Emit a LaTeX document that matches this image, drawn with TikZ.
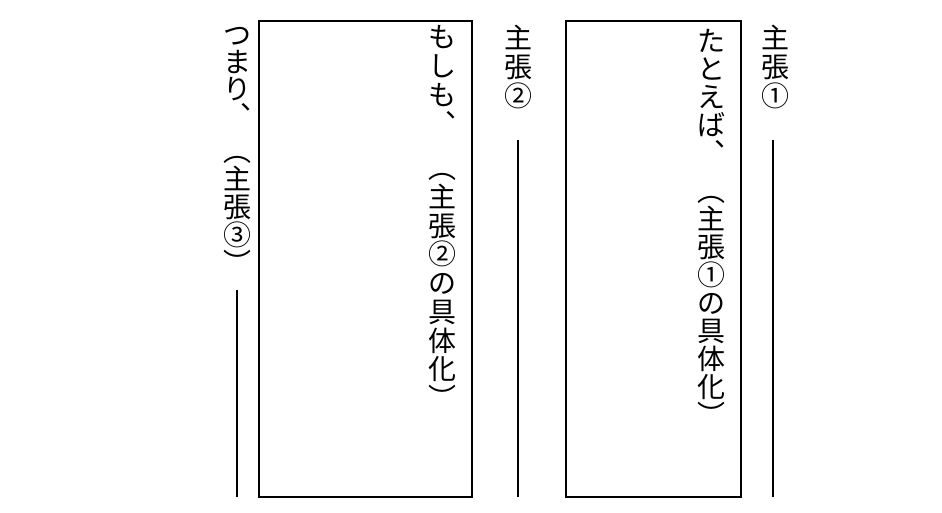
\documentclass[tikz,border=0pt]{standalone}
\usepackage{fontspec}
\newfontfamily\jpfont{Noto Sans CJK JP}
\newlength{\du}
\setlength{\du}{1pt}
\tikzset{
  moji/.style={inner sep=0pt, text height=0.88em, text depth=0.12em,
    font=\jpfont\fontsize{28\du}{28\du}\selectfont},
  waku/.style={draw, line width=1.5\du, inner sep=0pt},
  kakisen/.style={line width=2.6\du},
}
% one column of vertical text: name, x, y of first char, pitch, chars
\newcommand{\tategaki}[5]{%
  \foreach \c [count=\i] in {#5}
    \node[moji] (#1\i) at (#2\du, #3\du + \i*#4\du - #4\du) {\c};
}

\begin{document}
\begin{tikzpicture}
\pgftransformxscale{1.000000}
\pgftransformyscale{-1.000000}
\useasboundingbox (0,0) rectangle (942\du,512\du);
% boxes
\node[waku, minimum width=175\du, minimum height=476\du] (rei1) at (653.5\du,259\du) {};
\node[waku, minimum width=213\du, minimum height=476\du] (rei2) at (365.5\du,259\du) {};
% claim 1
\tategaki{shucho1-}{775}{45}{29}{主,張,①}
\coordinate (sen1a) at (773\du,140\du);
\coordinate (sen1b) at (773\du,497\du);
\draw[kakisen] (sen1a)--(sen1b);
% example 1
\tategaki{tatoe-}{711}{48}{28}{た,と,え,ば,︑}
\tategaki{gutai1-}{711}{198}{28}{︵,主,張,①,の,具,体,化,︶}
% claim 2
\tategaki{shucho2-}{518}{45}{29}{主,張,②}
\coordinate (sen2a) at (518\du,140\du);
\coordinate (sen2b) at (518\du,497\du);
\draw[kakisen] (sen2a)--(sen2b);
% example 2
\tategaki{moshi-}{442}{44}{29}{も,し,も,︑}
\tategaki{gutai2-}{442}{175}{28.7}{︵,主,張,②,の,具,体,化,︶}
% claim 3
\tategaki{tsumari-}{237}{42}{27}{つ,ま,り,︑}
\tategaki{shucho3-}{237}{158}{28}{︵,主,張,③,︶}
\coordinate (sen3a) at (237\du,290\du);
\coordinate (sen3b) at (237\du,497\du);
\draw[kakisen] (sen3a)--(sen3b);
\end{tikzpicture}
\end{document}
